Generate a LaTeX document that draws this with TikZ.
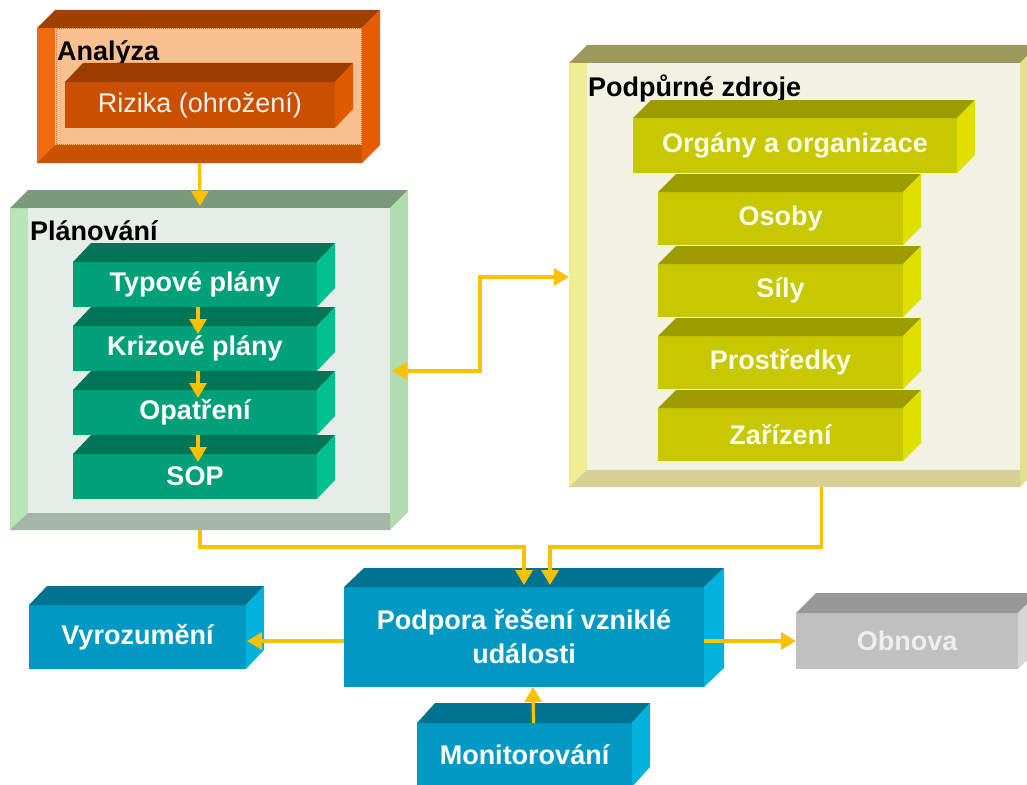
\documentclass[tikz,border=0pt]{standalone}
\usepackage{fontspec}
\setmainfont{Liberation Sans}
\usetikzlibrary{arrows.meta,calc}
\definecolor{anaT}{HTML}{A04000}
\definecolor{anaR}{HTML}{E65C00}
\definecolor{anaL}{HTML}{F06A10}
\definecolor{anaP}{HTML}{F8C090}
\definecolor{anaF}{HTML}{C85200}
\definecolor{rizF}{HTML}{C85000}
\definecolor{rizT}{HTML}{9C3C00}
\definecolor{rizR}{HTML}{E05A00}
\definecolor{rizX}{HTML}{FFF2EA}
\definecolor{plaT}{HTML}{7A9A7A}
\definecolor{plaR}{HTML}{B0DCB0}
\definecolor{plaL}{HTML}{B8E4B8}
\definecolor{plaP}{HTML}{E6ECE6}
\definecolor{plaF}{HTML}{A6B6A6}
\definecolor{grnF}{HTML}{00A078}
\definecolor{grnT}{HTML}{007656}
\definecolor{grnR}{HTML}{00C090}
\definecolor{podT}{HTML}{9C9A5A}
\definecolor{podR}{HTML}{E2E28A}
\definecolor{podL}{HTML}{EEEE92}
\definecolor{podP}{HTML}{F2F2E2}
\definecolor{podF}{HTML}{D8D096}
\definecolor{yelF}{HTML}{C8C800}
\definecolor{yelT}{HTML}{9C9C00}
\definecolor{yelR}{HTML}{E0E000}
\definecolor{yelX}{HTML}{FAFAE6}
\definecolor{bluF}{HTML}{0099C4}
\definecolor{bluT}{HTML}{007390}
\definecolor{bluR}{HTML}{00B2DC}
\definecolor{gryF}{HTML}{C0C0C0}
\definecolor{gryT}{HTML}{989898}
\definecolor{gryR}{HTML}{D6D6D6}
\definecolor{gryX}{HTML}{EEEEEE}
\definecolor{arrowc}{HTML}{FFC000}
\newcommand\cubefaces[5]{%
  \fill[#4] (#1.north west) -- ++(#2,-#3) -- ([shift={(#2,-#3)}]#1.north east) -- (#1.north east) -- cycle;
  \fill[#5] (#1.north east) -- ++(#2,-#3) -- ([shift={(#2,-#3)}]#1.south east) -- (#1.south east) -- cycle;
}
\tikzset{
  face/.style={anchor=north west, inner sep=0pt, outer sep=0pt,
    font=\fontsize{27}{34}\selectfont\bfseries, align=center},
  lab/.style={anchor=base west, inner sep=0pt, font=\fontsize{27}{31}\selectfont\bfseries, text=black},
  grn/.style={face, fill=grnF, text=white, minimum width=244pt, minimum height=45pt},
  yel/.style={face, fill=yelF, text=yelX, minimum width=245pt, minimum height=53pt},
  blu/.style={face, fill=bluF, text=white},
  arr/.style={draw=arrowc, line width=3.2pt, -{Triangle[width=17pt,length=15pt]}},
  arrb/.style={draw=arrowc, line width=3.2pt, {Triangle[width=17pt,length=15pt]}-{Triangle[width=17pt,length=15pt]}},
}
\begin{document}
\begin{tikzpicture}[x=1pt,y=-1pt]
\useasboundingbox (0,0) rectangle (1027,784);
\fill[white] (0,0) rectangle (1027,784);
\clip (0,0) rectangle (1027,784);

% Analyza
\node[face, fill=anaL, minimum width=325pt, minimum height=135pt] (ana) at (37,28) {};
\cubefaces{ana}{18}{18}{anaT}{anaR}
\fill[anaP] (55,28) rectangle (362,145);
\draw[anaL, densely dotted, line width=1pt] (56,29) rectangle (361,144);
\fill[anaF] (37,163) -- (55,145) -- (362,145) -- (362,163) -- cycle;
\node[lab] (anal) at (57,60) {Analýza};
\node[face, fill=rizF, text=rizX, font=\fontsize{27}{31}\selectfont, minimum width=270pt, minimum height=46pt] (riz) at (65,82) {Rizika (ohrožení)};
\cubefaces{riz}{18}{19}{rizT}{rizR}

% Planovani
\node[face, fill=plaL, minimum width=380pt, minimum height=322pt] (pla) at (10,208) {};
\cubefaces{pla}{18}{18}{plaT}{plaR}
\fill[plaP] (28,208) rectangle (390,513);
\fill[plaF] (10,530) -- (28,513) -- (390,513) -- (390,530) -- cycle;
\node[lab] (plal) at (30,240) {Plánování};

\node[grn] (typ) at (73,262) {Typové plány};
\cubefaces{typ}{18}{19}{grnT}{grnR}
\node[grn] (kri) at (73,326) {Krizové plány};
\cubefaces{kri}{18}{19}{grnT}{grnR}
\node[grn] (opa) at (73,390) {Opatření};
\cubefaces{opa}{18}{19}{grnT}{grnR}
\node[grn] (sop) at (73,454) {SOP};
\cubefaces{sop}{18}{19}{grnT}{grnR}

% Podpurne zdroje
\node[face, fill=podL, minimum width=451pt, minimum height=424pt] (pod) at (569,63) {};
\cubefaces{pod}{18}{18}{podT}{podR}
\fill[podP] (587,63) rectangle (1020,470);
\fill[podF] (569,487) -- (587,470) -- (1020,470) -- (1020,487) -- cycle;
\node[lab] (podl) at (588,96) {Podpůrné zdroje};

\node[face, fill=yelF, text=yelX, minimum width=324pt, minimum height=55pt] (org) at (633,118) {Orgány a organizace};
\cubefaces{org}{18}{18}{yelT}{yelR}
\node[yel] (oso) at (658,192) {Osoby};
\cubefaces{oso}{18}{18}{yelT}{yelR}
\node[yel] (sil) at (658,264) {Síly};
\cubefaces{sil}{18}{18}{yelT}{yelR}
\node[yel] (pro) at (658,336) {Prostředky};
\cubefaces{pro}{18}{18}{yelT}{yelR}
\node[yel] (zar) at (658,408) {Zařízení};
\cubefaces{zar}{18}{18}{yelT}{yelR}

% bottom row
\node[blu, minimum width=360pt, minimum height=100pt] (pde) at (344,587) {Podpora řešení vzniklé\\události};
\cubefaces{pde}{20}{19}{bluT}{bluR}
\node[blu, minimum width=217pt, minimum height=64pt] (vyr) at (29,605) {Vyrozumění};
\cubefaces{vyr}{18}{19}{bluT}{bluR}
\node[face, fill=gryF, text=gryX, minimum width=222pt, minimum height=56pt] (obn) at (796,613) {Obnova};
\cubefaces{obn}{20}{20}{gryT}{gryR}
\node[blu, minimum width=215pt, minimum height=64pt] (mon) at (417,723) {Monitorování};
\cubefaces{mon}{18}{20}{bluT}{bluR}

% connectors
\draw[arr] (ana.south) -- ([yshift=2pt]pla.north);
\draw[arr] ([xshift=3pt]typ.south) -- ([xshift=3pt,yshift=-8pt]kri.north);
\draw[arr] ([xshift=3pt]kri.south) -- ([xshift=3pt,yshift=-8pt]opa.north);
\draw[arr] ([xshift=3pt]opa.south) -- ([xshift=3pt,yshift=-8pt]sop.north);
\draw[arrb] ([xshift=2pt,yshift=-2pt]pla.east) -- ++(88,0) |- ([yshift=-2pt]pod.west);
\draw[arr] (pla.south) -- ++(0,17) -| ([yshift=2pt]pde.north);
\draw[arr] ([xshift=27pt]pod.south) -- ++(0,60) -| ([xshift=26pt,yshift=2pt]pde.north);
\draw[arr] ([yshift=-4pt]pde.west) -- ([yshift=-4pt,xshift=1pt]vyr.east);
\draw[arr] ([yshift=-4pt]pde.east) -- (obn.west);
\draw[arr] ([xshift=9pt]mon.north) -- ([xshift=9pt]pde.south);
\end{tikzpicture}
\end{document}
